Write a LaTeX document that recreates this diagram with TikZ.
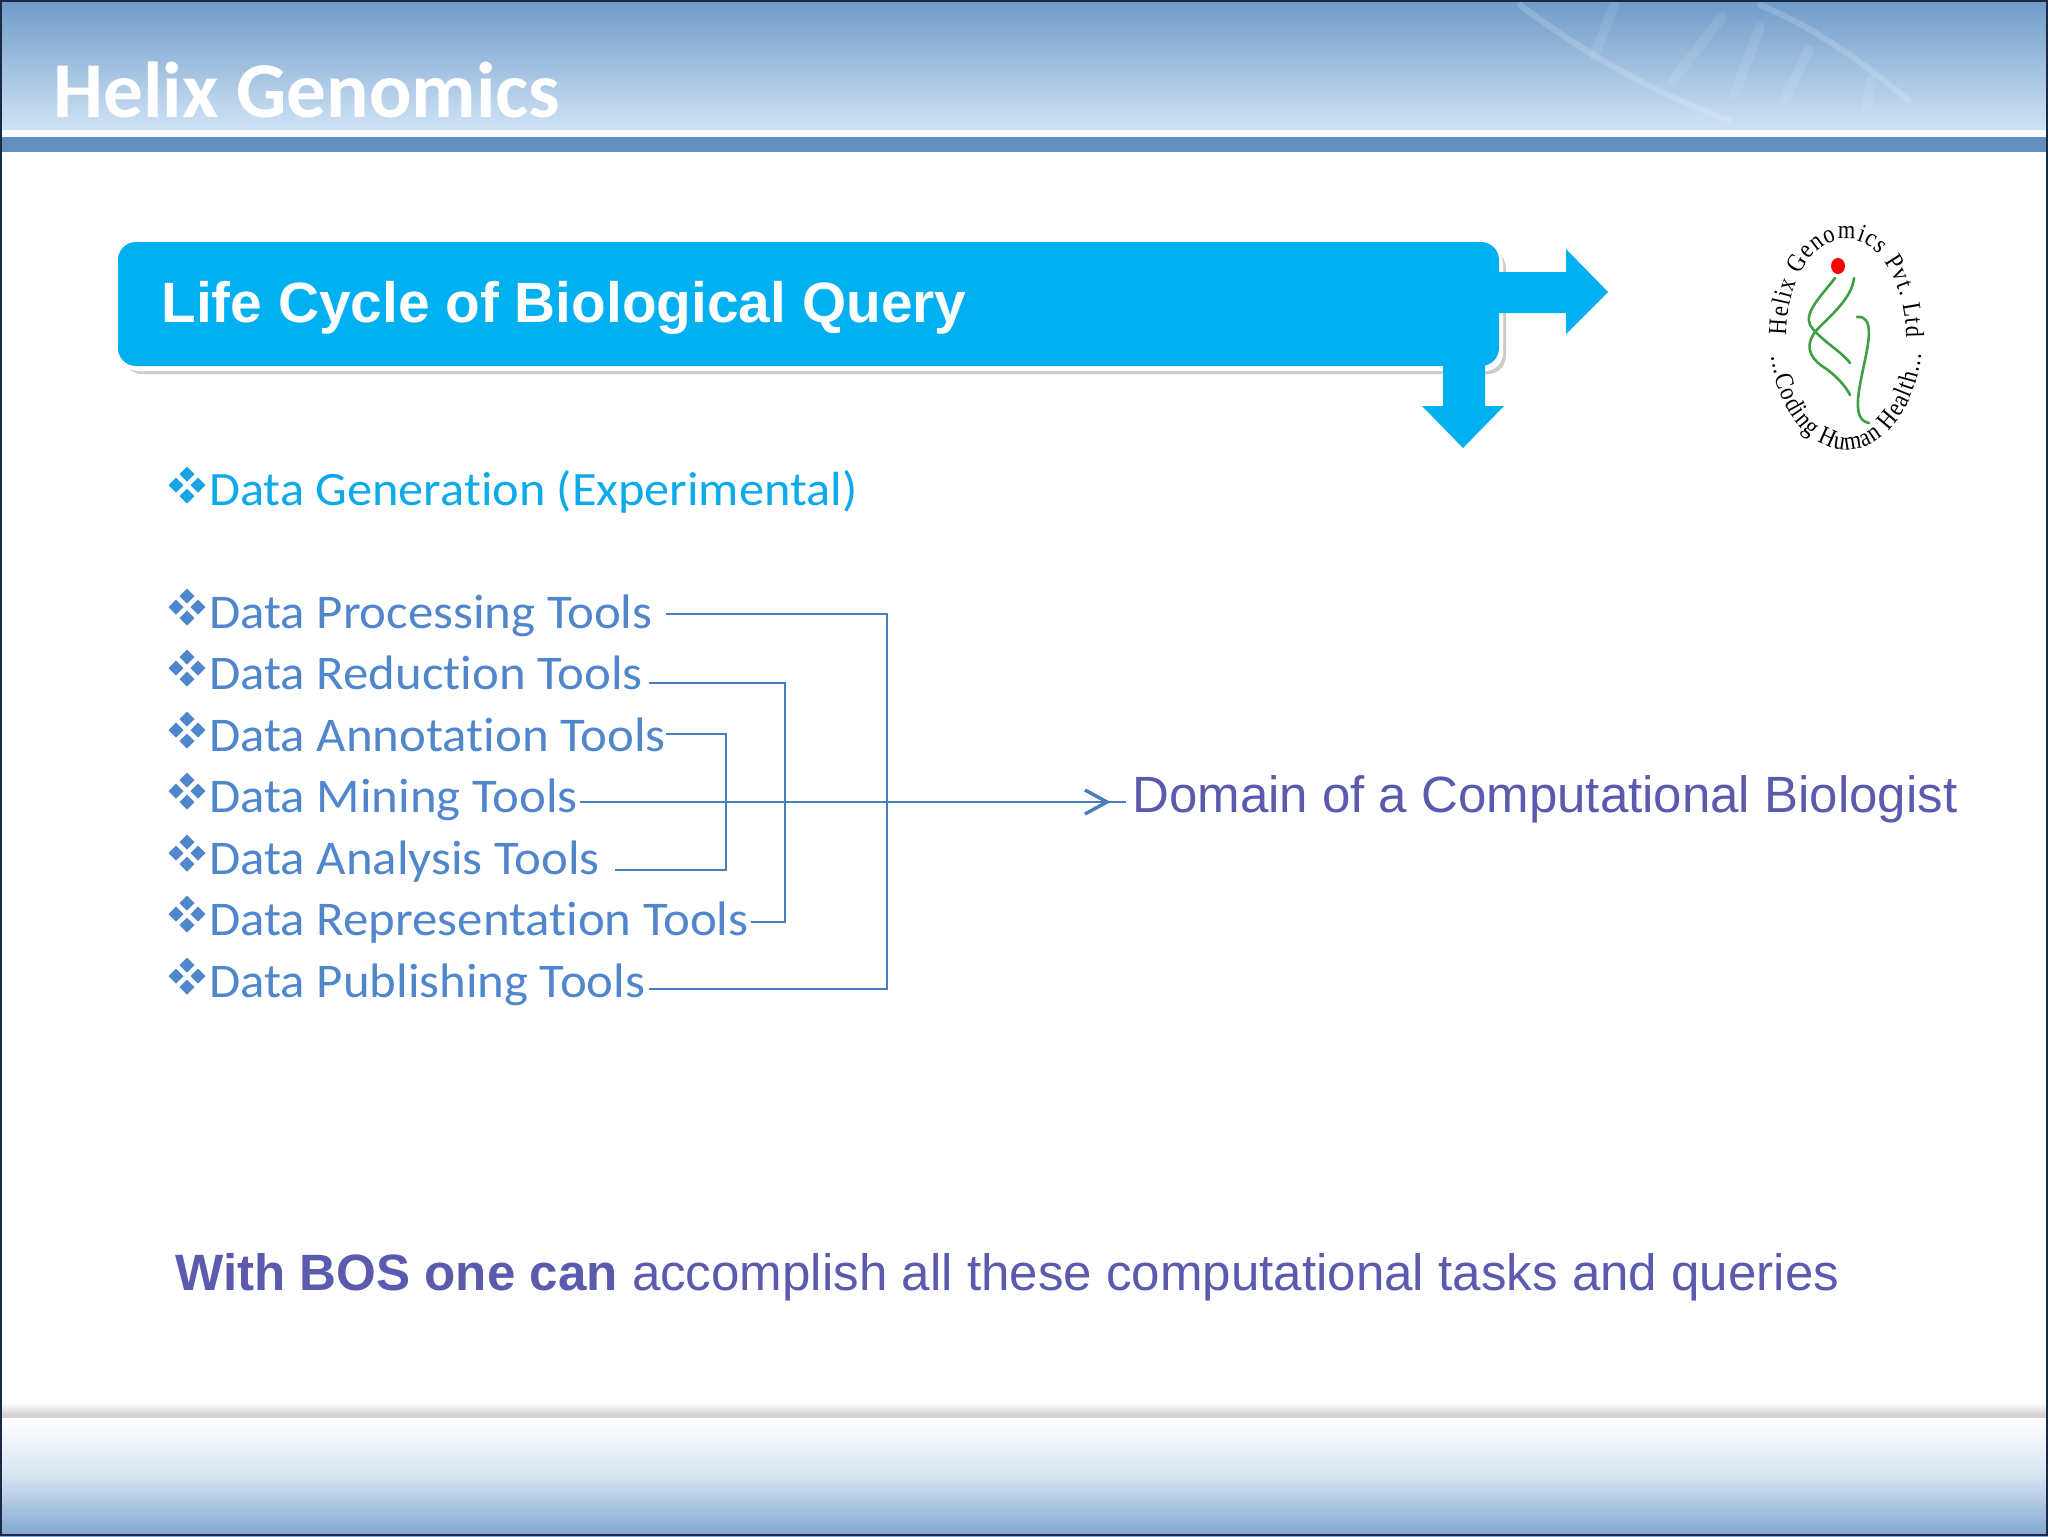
\documentclass[tikz,border=0pt]{standalone}
\usepackage{fontspec}
\usetikzlibrary{arrows.meta,decorations.text,shapes.geometric}
\setmainfont{Liberation Sans}
\newfontfamily\calib{Carlito}
\newfontfamily\calibwide[FakeStretch=1.05,Ligatures=NoCommon]{Carlito}
\newfontfamily\logoserif[FakeStretch=0.86]{Liberation Serif}
\definecolor{cyanblue}{HTML}{00B0F0}
\definecolor{toolblue}{HTML}{4F86CC}
\definecolor{linkblue}{HTML}{4A7EBB}
\definecolor{domviolet}{HTML}{5A5BAE}
\definecolor{bandblue}{HTML}{628FC0}
\definecolor{topblue}{HTML}{6F9BC8}
\definecolor{lightblue}{HTML}{CFE3F6}
\definecolor{footblue}{HTML}{7FA6D0}
\definecolor{footgray}{HTML}{D6D2D4}
\definecolor{edge}{HTML}{1B2A44}
\definecolor{logogreen}{HTML}{3F9F45}
\tikzset{
  toolitem/.style={anchor=base west,inner sep=0pt,text=toolblue,font=\calibwide\fontsize{24.2}{29}\selectfont},
  link/.style={draw=linkblue,line width=1pt},
  bigarrow/.style={fill=cyanblue,draw=none},
  logotext/.style={decoration={text along path,text align={fit to path},text={|\logoserif\fontsize{13}{15}\selectfont|#1}},decorate},
  strand/.style={draw=logogreen,line width=1.3pt,line cap=round},
  waveline/.style={draw=white,opacity=0.16,line width=3pt,line cap=round},
  waverung/.style={draw=white,opacity=0.09,line width=5pt,line cap=round}
}
% four-diamond bullet
\newcommand{\fourdiamond}[3]{%
  \fill[#3] (#1,#2-18.5) -- ++(7.5,7.5) -- ++(-7.5,7.5) -- ++(-7.5,-7.5) -- cycle;
  \fill[#3] (#1,#2+3.5) -- ++(7.5,7.5) -- ++(-7.5,7.5) -- ++(-7.5,-7.5) -- cycle;
  \fill[#3] (#1-11,#2-7.5) -- ++(7.5,7.5) -- ++(-7.5,7.5) -- ++(-7.5,-7.5) -- cycle;
  \fill[#3] (#1+11,#2-7.5) -- ++(7.5,7.5) -- ++(-7.5,7.5) -- ++(-7.5,-7.5) -- cycle;
}
\begin{document}
\begin{tikzpicture}[x=0.5pt,y=-0.5pt]
\useasboundingbox (0,0) rectangle (2048,1536);
\fill[white] (0,0) rectangle (2048,1536);
% header
\shade[top color=topblue,bottom color=lightblue] (0,0) rectangle (2048,130);
\fill[white!85!lightblue] (0,130) rectangle (2048,137);
\fill[bandblue] (0,137) rectangle (2048,152);
% faint helix in header
\draw[waveline] (1520,5) .. controls (1560,35) and (1640,90) .. (1730,120);
\draw[waveline] (1760,5) .. controls (1810,25) and (1860,60) .. (1908,100);
\draw[waverung] (1615,3) -- (1594,57);
\draw[waverung] (1722,17) -- (1673,80);
\draw[waverung] (1760,27) -- (1735,93);
\draw[waverung] (1809,50) -- (1784,100);
\draw[waverung] (1871,80) -- (1867,107);
% footer
\shade[top color=white,bottom color=footgray] (0,1403) rectangle (2048,1414);
\fill[footgray] (0,1414) rectangle (2048,1418);
\shade[top color=white,bottom color=footblue,middle color=white!68!footblue] (0,1418) rectangle (2048,1536);
% frame
\draw[edge,line width=1pt] (0,1) -- (2048,1);
\draw[edge,line width=1pt] (1,0) -- (1,1536);
\draw[edge,line width=1pt] (0,1535) -- (2048,1535);
\draw[edge,line width=1pt] (2047,0) -- (2047,1536);
% title
\node[anchor=base west,inner sep=0pt,text=white,font=\calib\bfseries\fontsize{39.6}{46}\selectfont] (title) at (53,118) {Helix Genomics};
% banner
\fill[black!20!white,rounded corners=9pt] (124,250) rectangle (1506,374);
\fill[white,rounded corners=9pt] (120,246) rectangle (1503,371);
\fill[bigarrow] (1450,272) -- (1566,272) -- (1566,249) -- (1608,292) -- (1566,334) -- (1566,313) -- (1450,313) -- cycle;
\fill[bigarrow] (1443,340) -- (1485,340) -- (1485,406) -- (1504,406) -- (1463,448) -- (1422,406) -- (1443,406) -- cycle;
\fill[cyanblue,rounded corners=9pt] (118,242) rectangle (1499,366);
\node[anchor=base west,inner sep=0pt,text=white,font=\bfseries\fontsize{28.4}{34}\selectfont] (lifecycle) at (161,322) {Life Cycle of Biological Query};
% logo
\begin{scope}[shift={(1846,337)},y=0.5pt]
  \path[logotext={Helix Genomics Pvt. Ltd{}}] (179:60 and 98) arc[start angle=179,end angle=-1,x radius=60,y radius=98];
  \path[logotext={...Coding Human Health...{}}] (190:76 and 113) arc[start angle=190,end angle=352,x radius=76,y radius=113];
\end{scope}
\fill[red] (1838,266) ellipse [x radius=7,y radius=8];
\draw[strand] (1835,278) .. controls (1822,295) and (1804,312) .. (1810,325) .. controls (1820,340) and (1840,350) .. (1850,363);
\draw[strand] (1854,278) .. controls (1852,300) and (1825,320) .. (1815,332) .. controls (1802,350) and (1815,362) .. (1825,368) .. controls (1835,375) and (1845,385) .. (1850,395);
\draw[strand] (1857,317) .. controls (1875,315) and (1868,345) .. (1865,360) .. controls (1860,385) and (1850,420) .. (1869,423);
% first bullet
\fourdiamond{187}{485}{cyanblue!70!toolblue}
\node[anchor=base west,inner sep=0pt,text=cyanblue!85!toolblue,font=\calibwide\fontsize{23.96}{29}\selectfont] (gen) at (209,505) {Data Generation (Experimental)};
% tools
\fourdiamond{187}{607}{toolblue}
\node[toolitem] (t1) at (209,628) {Data Processing Tools};
\fourdiamond{187}{668}{toolblue}
\node[toolitem] (t2) at (209,689.5) {Data Reduction Tools};
\fourdiamond{187}{730}{toolblue}
\node[toolitem] (t3) at (209,751) {Data Annotation Tools};
\fourdiamond{187}{791}{toolblue}
\node[toolitem] (t4) at (209,812.5) {Data Mining Tools};
\fourdiamond{187}{853}{toolblue}
\node[toolitem] (t5) at (209,874) {Data Analysis Tools};
\fourdiamond{187}{914}{toolblue}
\node[toolitem] (t6) at (209,935.5) {Data Representation Tools};
\fourdiamond{187}{976}{toolblue}
\node[toolitem] (t7) at (209,997) {Data Publishing Tools};
% domain
\node[anchor=base west,inner sep=0pt,text=domviolet,font=\fontsize{25.5}{30}\selectfont] (dom) at (1132,812) {Domain of a Computational Biologist};
% connectors
\coordinate (s1) at (666,614); \coordinate (e1) at (649,989);
\coordinate (s2) at (649,683); \coordinate (e2) at (751,922);
\coordinate (s3) at (666,734); \coordinate (e3) at (615,870);
\coordinate (s4) at (580,802); \coordinate (tip) at (1107,802); \coordinate (e4) at (1126,802);
\draw[link] (s1) -- (887,614) -- (887,989) -- (e1);
\draw[link] (s2) -- (785,683) -- (785,922) -- (e2);
\draw[link] (s3) -- (725.5,734) -- (725.5,870) -- (e3);
\draw[link] (s4) -- (e4);
\draw[draw=linkblue,line width=1.7pt] (1085,790) -- (tip) -- (1085,814);
% bottom
\node[anchor=base west,inner sep=0pt,text=domviolet,font=\fontsize{25.55}{30}\selectfont] (bos) at (175,1290) {\textbf{With BOS one can} accomplish all these computational tasks and queries};
\end{tikzpicture}
\end{document}
